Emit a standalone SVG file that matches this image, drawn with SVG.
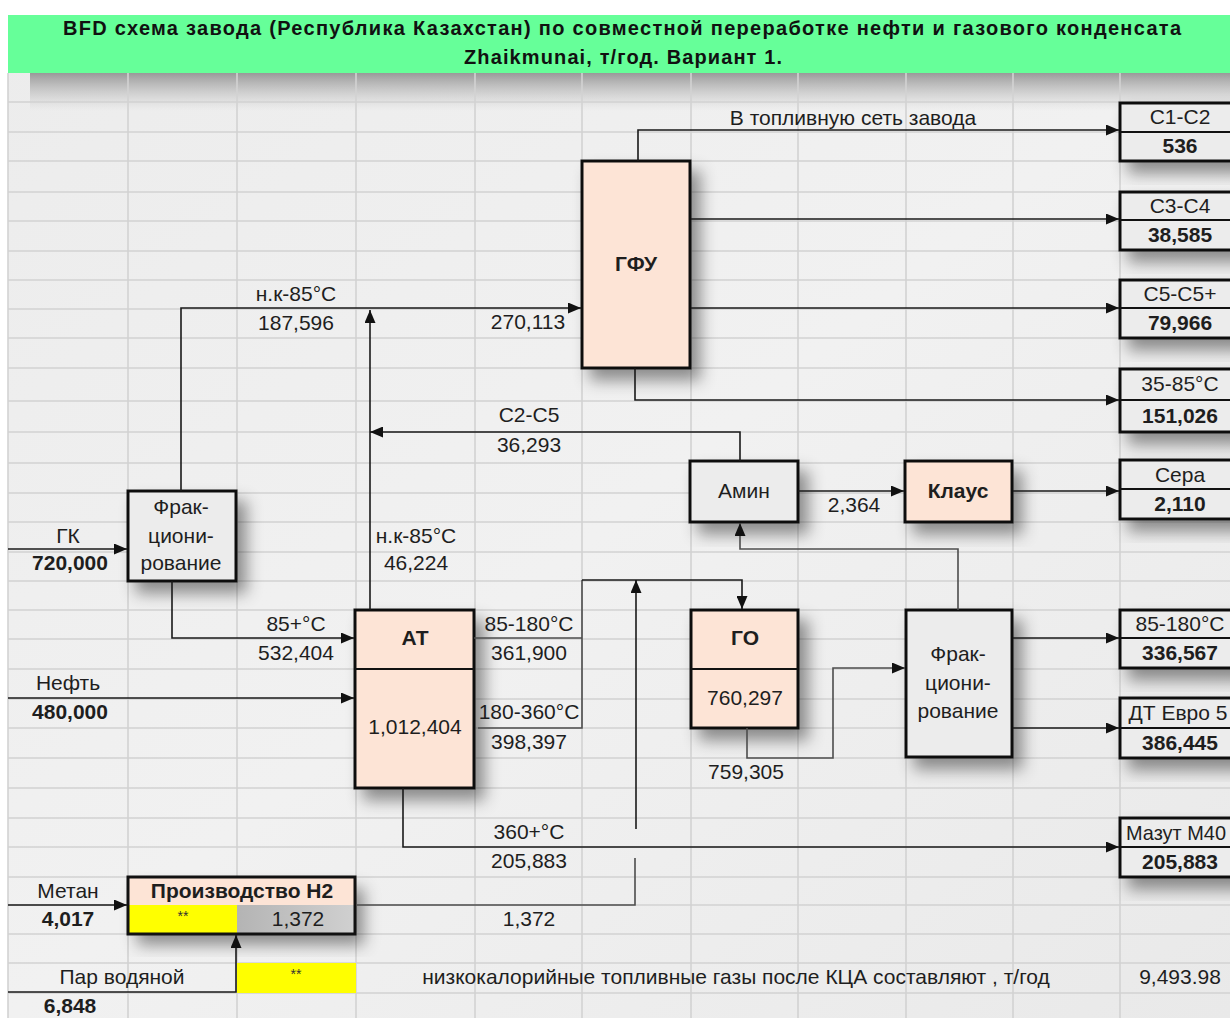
<svg xmlns="http://www.w3.org/2000/svg" width="1230" height="1018" viewBox="0 0 1230 1018">
<defs>
<style>
.t{font-family:"Liberation Sans",Arial,sans-serif;font-size:21px;fill:#1e1e1e;text-anchor:middle}
.b{font-weight:bold}
.hd{font-family:"Liberation Sans",Arial,sans-serif;font-size:20px;font-weight:bold;fill:#111;text-anchor:middle}
.sm{font-family:"Liberation Sans",Arial,sans-serif;font-size:14px;fill:#333;text-anchor:middle}
.grid line{stroke:#d2d2d2;stroke-width:1.6}
.box{stroke:#111;stroke-width:3}
.peach{fill:#fde4d6}
.gray{fill:#ececec}
.c{fill:none;stroke:#1a1a1a;stroke-width:1.6}
.cg{fill:none;stroke:#4d4d4d;stroke-width:1.6}
.ar{marker-end:url(#arr)}
.div{stroke:#111;stroke-width:2}
</style>
<marker id="arr" markerUnits="userSpaceOnUse" markerWidth="13" markerHeight="11" refX="13" refY="5.5" orient="auto">
<path d="M0,0 L13,5.5 L0,11 z" fill="#111"/>
</marker>
<filter id="sh" x="-30%" y="-30%" width="170%" height="170%">
<feDropShadow dx="9" dy="11" stdDeviation="8" flood-color="#000" flood-opacity="0.42"/>
</filter>
<linearGradient id="bg" x1="0" y1="0" x2="1" y2="1">
<stop offset="0" stop-color="#ececec"/>
<stop offset="0.5" stop-color="#f1f1f1"/>
<stop offset="1" stop-color="#e9e9e9"/>
</linearGradient>
<linearGradient id="hsh" x1="0" y1="0" x2="0" y2="1">
<stop offset="0" stop-color="#8a8a8a" stop-opacity="0.85"/>
<stop offset="1" stop-color="#bdbdbd" stop-opacity="0"/>
</linearGradient>
<linearGradient id="cellg" x1="0" y1="0" x2="1" y2="0">
<stop offset="0" stop-color="#b4b4b4"/>
<stop offset="1" stop-color="#d0d0d0"/>
</linearGradient>
</defs>

<rect x="0" y="0" width="1230" height="1018" fill="#ffffff"/>
<rect x="8" y="15" width="1222" height="1003" fill="url(#bg)"/>
<rect x="30" y="73" width="1200" height="38" fill="url(#hsh)"/>

<g class="grid" id="grid">
<line x1="8" y1="73" x2="8" y2="1018"/>
<line x1="128" y1="73" x2="128" y2="1018"/>
<line x1="237" y1="73" x2="237" y2="1018"/>
<line x1="356" y1="73" x2="356" y2="1018"/>
<line x1="475" y1="73" x2="475" y2="1018"/>
<line x1="582" y1="73" x2="582" y2="1018"/>
<line x1="691" y1="73" x2="691" y2="1018"/>
<line x1="798" y1="73" x2="798" y2="1018"/>
<line x1="906" y1="73" x2="906" y2="1018"/>
<line x1="1013" y1="73" x2="1013" y2="1018"/>
<line x1="1120" y1="73" x2="1120" y2="1018"/>
<line x1="8" y1="102" x2="1230" y2="102"/>
<line x1="8" y1="132" x2="1230" y2="132"/>
<line x1="8" y1="161" x2="1230" y2="161"/>
<line x1="8" y1="192" x2="1230" y2="192"/>
<line x1="8" y1="221" x2="1230" y2="221"/>
<line x1="8" y1="251" x2="1230" y2="251"/>
<line x1="8" y1="280" x2="1230" y2="280"/>
<line x1="8" y1="309" x2="1230" y2="309"/>
<line x1="8" y1="338" x2="1230" y2="338"/>
<line x1="8" y1="368" x2="1230" y2="368"/>
<line x1="8" y1="401" x2="1230" y2="401"/>
<line x1="8" y1="432" x2="1230" y2="432"/>
<line x1="8" y1="463" x2="1230" y2="463"/>
<line x1="8" y1="493" x2="1230" y2="493"/>
<line x1="8" y1="522" x2="1230" y2="522"/>
<line x1="8" y1="552" x2="1230" y2="552"/>
<line x1="8" y1="581" x2="1230" y2="581"/>
<line x1="8" y1="610" x2="1230" y2="610"/>
<line x1="8" y1="639" x2="1230" y2="639"/>
<line x1="8" y1="669" x2="1230" y2="669"/>
<line x1="8" y1="699" x2="1230" y2="699"/>
<line x1="8" y1="728" x2="1230" y2="728"/>
<line x1="8" y1="758" x2="1230" y2="758"/>
<line x1="8" y1="788" x2="1230" y2="788"/>
<line x1="8" y1="818" x2="1230" y2="818"/>
<line x1="8" y1="847" x2="1230" y2="847"/>
<line x1="8" y1="877" x2="1230" y2="877"/>
<line x1="8" y1="905" x2="1230" y2="905"/>
<line x1="8" y1="934" x2="1230" y2="934"/>
<line x1="8" y1="963" x2="1230" y2="963"/>
<line x1="8" y1="993" x2="1230" y2="993"/>
</g>

<g id="header">
<rect x="8" y="15" width="1222" height="58" fill="#66ff99"/>
<text class="hd" x="622" y="35" textLength="1118" lengthAdjust="spacing">BFD схема завода (Республика Казахстан) по совместной переработке нефти и газового конденсата</text>
<text class="hd" x="623" y="64" textLength="318" lengthAdjust="spacing">Zhaikmunai, т/год. Вариант 1.</text>
</g>

<g id="frac-left">
<rect class="box gray" x="128" y="491" width="108" height="90" filter="url(#sh)"/>
<text class="t" x="181" y="514">Фрак-</text>
<text class="t" x="181" y="543">циони-</text>
<text class="t" x="181" y="570">рование</text>
</g>

<g id="at">
<rect class="box peach" x="355" y="610" width="119" height="178" filter="url(#sh)"/>
<line class="div" x1="355" y1="669" x2="474" y2="669"/>
<text class="t b" x="415" y="645">АТ</text>
<text class="t" x="415" y="734">1,012,404</text>
</g>

<g id="gfu">
<rect class="box peach" x="582" y="161" width="108" height="207" filter="url(#sh)"/>
<text class="t b" x="636" y="271">ГФУ</text>
</g>

<g id="amin">
<rect class="box gray" x="690" y="461" width="108" height="61" filter="url(#sh)"/>
<text class="t" x="744" y="498">Амин</text>
</g>

<g id="claus">
<rect class="box peach" x="905" y="461" width="107" height="61" filter="url(#sh)"/>
<text class="t b" x="958" y="498">Клаус</text>
</g>

<g id="go">
<rect class="box peach" x="691" y="610" width="107" height="118" filter="url(#sh)"/>
<line class="div" x1="691" y1="669" x2="798" y2="669"/>
<text class="t b" x="745" y="645">ГО</text>
<text class="t" x="745" y="705">760,297</text>
</g>

<g id="frac-right">
<rect class="box gray" x="906" y="610" width="106" height="147" filter="url(#sh)"/>
<text class="t" x="958" y="661">Фрак-</text>
<text class="t" x="958" y="690">циони-</text>
<text class="t" x="958" y="718">рование</text>
</g>

<g id="h2">
<rect x="128" y="877" width="227" height="57" fill="#fde4d6" filter="url(#sh)"/>
<rect x="128" y="905" width="109" height="29" fill="#ffff00"/>
<rect x="237" y="905" width="118" height="29" fill="url(#cellg)"/>
<rect class="box" x="128" y="877" width="227" height="57" fill="none"/>
<text class="t b" x="242" y="898">Производство H2</text>
<text class="sm" x="183" y="921">**</text>
<text class="t" x="298" y="926">1,372</text>
</g>

<g id="steam-cell">
<rect x="237" y="963" width="119" height="30" fill="#ffff00"/>
<text class="sm" x="296" y="979">**</text>
</g>

<g id="out-c1c2">
<rect class="box gray" x="1120" y="103" width="130" height="58" filter="url(#sh)"/>
<line class="div" x1="1120" y1="132" x2="1250" y2="132"/>
<text class="t" x="1180" y="124">C1-C2</text>
<text class="t b" x="1180" y="153">536</text>
</g>
<g id="out-c3c4">
<rect class="box gray" x="1120" y="192" width="130" height="58" filter="url(#sh)"/>
<line class="div" x1="1120" y1="220" x2="1250" y2="220"/>
<text class="t" x="1180" y="213">C3-C4</text>
<text class="t b" x="1180" y="242">38,585</text>
</g>
<g id="out-c5">
<rect class="box gray" x="1120" y="280" width="130" height="58" filter="url(#sh)"/>
<line class="div" x1="1120" y1="308" x2="1250" y2="308"/>
<text class="t" x="1180" y="301">C5-C5+</text>
<text class="t b" x="1180" y="330">79,966</text>
</g>
<g id="out-35-85">
<rect class="box gray" x="1120" y="369" width="130" height="63" filter="url(#sh)"/>
<line class="div" x1="1120" y1="400" x2="1250" y2="400"/>
<text class="t" x="1180" y="391">35-85°C</text>
<text class="t b" x="1180" y="423">151,026</text>
</g>
<g id="out-sulfur">
<rect class="box gray" x="1120" y="460" width="130" height="59" filter="url(#sh)"/>
<line class="div" x1="1120" y1="489" x2="1250" y2="489"/>
<text class="t" x="1180" y="482">Сера</text>
<text class="t b" x="1180" y="511">2,110</text>
</g>
<g id="out-85-180">
<rect class="box gray" x="1120" y="610" width="130" height="58" filter="url(#sh)"/>
<line class="div" x1="1120" y1="638" x2="1250" y2="638"/>
<text class="t" x="1180" y="631">85-180°C</text>
<text class="t b" x="1180" y="660">336,567</text>
</g>
<g id="out-dt">
<rect class="box gray" x="1120" y="698" width="130" height="60" filter="url(#sh)"/>
<line class="div" x1="1120" y1="728" x2="1250" y2="728"/>
<text class="t" x="1178" y="720">ДТ Евро 5</text>
<text class="t b" x="1180" y="750">386,445</text>
</g>
<g id="out-mazut">
<rect class="box gray" x="1120" y="818" width="130" height="59" filter="url(#sh)"/>
<line class="div" x1="1120" y1="847" x2="1250" y2="847"/>
<text class="t" x="1176" y="840" textLength="100" lengthAdjust="spacingAndGlyphs">Мазут М40</text>
<text class="t b" x="1180" y="869">205,883</text>
</g>

<g id="connectors">
<path class="c ar" d="M8,549 H127"/>
<path class="c ar" d="M181,491 V308 H581"/>
<path class="c ar" d="M172,581 V638 H354"/>
<path class="c ar" d="M8,698 H354"/>
<path class="c ar" d="M370,610 V310"/>
<path class="c ar" d="M740,461 V432 H370"/>
<path class="cg ar" d="M958,610 V549 H740 V523"/>
<path class="c ar" d="M798,491 H904"/>
<path class="c ar" d="M1013,491 H1119"/>
<path class="c ar" d="M638,161 V130 H1119"/>
<path class="c ar" d="M691,219 H1119"/>
<path class="c ar" d="M691,308 H1119"/>
<path class="c ar" d="M635,368 V400 H1119"/>
<path class="cg" d="M474,638 H582"/>
<path class="cg" d="M478,728 H582 V580"/>
<path class="c ar" d="M582,580 H742 V609"/>
<path class="cg" d="M356,905 H635 V858"/>
<path class="c ar" d="M636,829 V580"/>
<path class="c ar" d="M403,788 V847 H1119"/>
<path class="cg ar" d="M747,728 V758 H833 V668 H905"/>
<path class="c ar" d="M1013,638 H1119"/>
<path class="c ar" d="M1013,728 H1119"/>
<path class="c ar" d="M8,905 H127"/>
<path class="c ar" d="M8,992 H236 V935"/>
</g>

<g id="labels">
<text class="t" x="853" y="125">В топливную сеть завода</text>
<text class="t" x="296" y="301">н.к-85°C</text>
<text class="t" x="296" y="330">187,596</text>
<text class="t" x="528" y="329">270,113</text>
<text class="t" x="529" y="422">C2-C5</text>
<text class="t" x="529" y="452">36,293</text>
<text class="t" x="854" y="512">2,364</text>
<text class="t" x="68" y="543">ГК</text>
<text class="t b" x="70" y="570">720,000</text>
<text class="t" x="416" y="543">н.к-85°C</text>
<text class="t" x="416" y="570">46,224</text>
<text class="t" x="296" y="631">85+°C</text>
<text class="t" x="296" y="660">532,404</text>
<text class="t" x="68" y="690">Нефть</text>
<text class="t b" x="70" y="719">480,000</text>
<text class="t" x="529" y="631">85-180°C</text>
<text class="t" x="529" y="660">361,900</text>
<text class="t" x="529" y="719">180-360°C</text>
<text class="t" x="529" y="749">398,397</text>
<text class="t" x="746" y="779">759,305</text>
<text class="t" x="529" y="839">360+°C</text>
<text class="t" x="529" y="868">205,883</text>
<text class="t" x="68" y="898">Метан</text>
<text class="t b" x="68" y="926">4,017</text>
<text class="t" x="529" y="926">1,372</text>
<text class="t" x="122" y="984">Пар водяной</text>
<text class="t b" x="70" y="1013">6,848</text>
<text class="t" x="736" y="984">низкокалорийные топливные газы после КЦА составляют , т/год</text>
<text class="t" x="1180" y="984">9,493.98</text>
</g>
</svg>
